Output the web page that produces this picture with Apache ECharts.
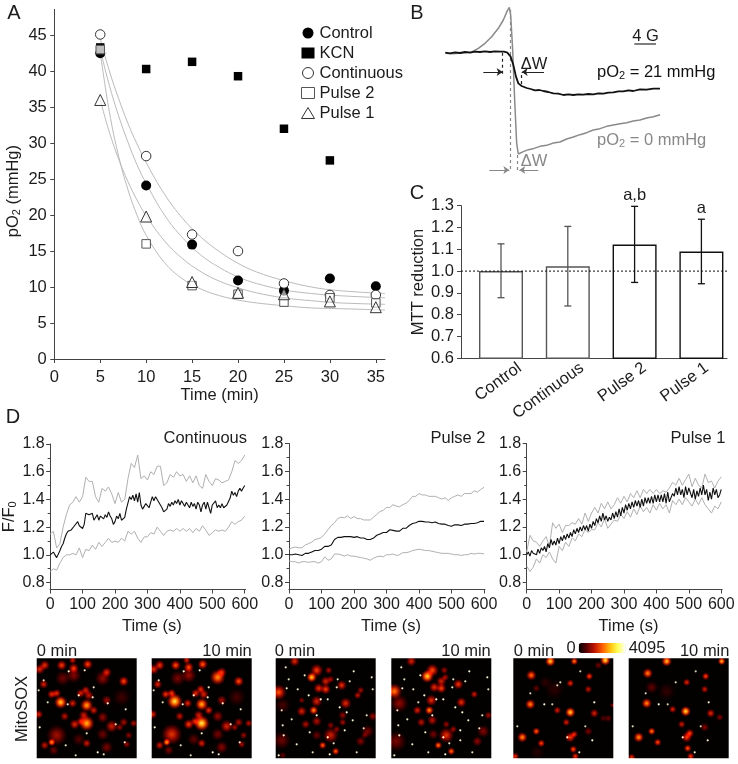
<!DOCTYPE html>
<html><head><meta charset="utf-8">
<style>html,body{margin:0;padding:0;background:#fff}#c{width:738px;height:764px}</style>
<script src="https://cdn.jsdelivr.net/npm/echarts@6/dist/echarts.min.js"></script>
</head><body><div id="c"></div>
<script>
// ---- Panel A
const timesA=[5,10,15,20,25,30,35];
const control=[42.5,24.1,15.9,10.9,9.5,11.2,10.1];
const kcn=[43.3,40.3,41.3,39.3,32,27.6];
const continuous=[45.1,28.2,17.3,15,10.5,8.9,8.9];
const pulse2=[43,16,10.2,9,7.9,8.5,7.8];
const pulse1=[36,19.8,10.7,9.2,9,8,7.2];
const fitTimes=[5,6,7,8,9,10,12,14,16,18,20,22,25,28,31,36];
const fitContinuous=[44.5,40,36.2,32.8,29.9,27.3,22.9,19.5,16.9,14.9,13.3,12.1,10.9,10,9.5,9.1];
const fitControl=[43,38,33.8,30.2,27,24.4,20,16.8,14.4,12.7,11.4,10.5,9.6,9.1,8.8,8.5];
const fitPulse1=[36,31.5,27.8,24.7,22.1,19.9,16.4,13.9,12.1,10.8,9.9,9.2,8.5,8.1,7.8,7.6];
const fitPulse2=[42.6,34.3,28.2,23.6,20,17.2,13.4,11.1,9.7,8.8,8.2,7.8,7.4,7.1,7,6.8];
// ---- Panel B (field, signal, arbitrary units)
const epr21=[[76,158],[90,160],[105,157],[120,159],[135,156],[150,158],[165,155],[180,156],[195,154],[210,156],[225,154],[240,155],[252,155],[262,158],[272,170],[280,195],[288,230],[295,250],[305,258],[320,264],[332,267],[345,271],[358,270],[370,273],[385,276],[400,280],[415,281],[430,285],[445,283],[460,285],[475,283],[490,284],[505,282],[520,283],[535,280],[550,281],[565,278],[580,277],[595,274],[610,274],[625,271],[640,273],[660,268],[680,269],[700,266],[720,266]];
const epr0=[[76,160],[100,161],[130,158],[155,156],[175,145],[195,130],[215,110],[235,85],[250,60],[262,32],[268,22],[272,45],[278,150],[284,300],[290,430],[295,462],[310,455],[325,449],[340,446],[360,439],[380,436],[400,429],[420,426],[440,417],[460,411],[480,404],[500,398],[520,390],[540,386],[560,379],[580,375],[600,371],[620,368],[640,363],[660,360],[680,354],[700,350],[720,344]];
const bDashGrey=[[[270,30],[270,515]],[[293,465],[293,515]]];
const bDashBlack=[[[248,158],[248,222]],[[305,225],[305,258]]];
const bArrowBlack=[[[190,216],[248,216]],[[372,216],[305,216]]];
const bArrowGrey=[[[208,510],[268,510]],[[355,510],[298,510]]];
const bScale=[[643,132],[708,132]];
// ---- Panel C
const groupsC=['Control','Continuous','Pulse 2','Pulse 1'];
const mttMean=[1.0,1.022,1.122,1.09];
const mttLow=[0.878,0.84,0.948,0.942];
const mttHigh=[1.125,1.205,1.297,1.238];
const mttMark=['','','a,b','a'];
// ---- Panel D
const contMean=[1.00,1.01,1.02,1.00,.98,.98,1.03,1.06,1.08,1.12,1.15,1.17,1.17,1.18,1.19,1.21,1.22,1.24,1.21,1.20,1.19,
1.22,1.30,1.30,1.29,1.30,1.30,1.25,1.24,1.29,1.25,1.28,1.29,1.26,1.29,1.27,1.31,1.28,1.26,1.22,1.24,
1.28,1.26,1.30,1.25,1.25,1.27,1.33,1.34,1.42,1.40,1.43,1.39,1.44,1.38,1.45,1.36,1.33,1.35,1.37,1.36,
1.34,1.38,1.42,1.39,1.42,1.42,1.38,1.36,1.34,1.31,1.32,1.33,1.37,1.35,1.38,1.36,1.39,1.37,1.40,1.36,
1.39,1.37,1.35,1.38,1.36,1.34,1.38,1.35,1.37,1.33,1.38,1.36,1.31,1.36,1.38,1.33,1.38,1.34,1.30,1.36,
1.35,1.39,1.34,1.36,1.34,1.37,1.34,1.35,1.36,1.37,1.41,1.46,1.43,1.45,1.42,1.46,1.48,1.46,1.48,1.50];
const contHigh=[1.15,1.17,1.05,1.08,1.2,1.29,1.36,1.38,1.42,1.38,1.42,1.56,1.53,1.53,1.42,1.38,1.48,1.46,1.49,1.44,1.37,1.45,1.38,1.40,1.55,1.66,1.63,1.72,1.55,1.57,1.54,1.60,1.58,1.64,1.64,1.50,1.52,1.58,1.56,1.60,1.57,1.58,1.53,1.57,1.52,1.57,1.50,1.48,1.58,1.53,1.50,1.55,1.54,1.52,1.53,1.54,1.60,1.68,1.66,1.68,1.72];
const contLow=[.88,.90,.89,.94,.98,1.0,1.0,1.01,1.0,1.05,.98,1.04,1.03,1.07,1.04,1.09,1.06,1.09,1.12,1.09,1.10,1.09,1.12,1.10,1.17,1.15,1.17,1.12,1.09,1.13,1.13,1.16,1.15,1.20,1.17,1.14,1.17,1.18,1.17,1.19,1.17,1.19,1.17,1.19,1.16,1.19,1.17,1.21,1.18,1.14,1.16,1.18,1.17,1.18,1.17,1.20,1.24,1.22,1.24,1.25,1.28];
const p2Mean=[1.0,1.0,1.005,1.0,.995,1.01,1.01,1.02,1.03,1.03,1.04,1.06,1.06,1.07,1.11,1.125,1.125,1.13,1.13,1.13,1.125,1.13,1.12,1.12,1.11,1.11,1.12,1.14,1.15,1.16,1.16,1.18,1.175,1.17,1.17,1.19,1.19,1.21,1.225,1.23,1.24,1.24,1.235,1.235,1.23,1.235,1.225,1.22,1.22,1.21,1.205,1.215,1.215,1.21,1.22,1.22,1.225,1.225,1.23,1.24,1.24];
const p2High=[1.04,1.05,1.055,1.05,1.05,1.07,1.08,1.09,1.11,1.115,1.125,1.15,1.18,1.21,1.23,1.26,1.27,1.265,1.28,1.26,1.275,1.26,1.26,1.25,1.25,1.25,1.27,1.29,1.31,1.32,1.34,1.34,1.36,1.35,1.345,1.36,1.37,1.39,1.42,1.42,1.44,1.43,1.43,1.42,1.42,1.42,1.41,1.40,1.41,1.39,1.41,1.42,1.43,1.42,1.44,1.44,1.44,1.46,1.45,1.47,1.485];
const p2Low=[.955,.95,.95,.94,.95,.95,.945,.95,.95,.94,.95,.985,.96,.97,1.005,1.005,1.0,.99,1.0,.99,.99,.985,.98,.975,.97,.96,.975,.985,.99,.985,1.0,1.0,1.005,.995,1.0,1.015,1.015,1.02,1.03,1.035,1.04,1.035,1.03,1.03,1.025,1.02,1.015,1.01,1.01,1.01,1.005,1.0,1.0,.995,1.0,1.0,1.01,1.005,1.01,1.01,1.005];
const p1Mean=[1.00,1.02,.99,1.03,1.01,1.02,1.00,1.04,1.01,1.05,1.03,1.06,1.02,1.08,1.05,1.11,1.07,1.10,1.07,1.12,1.08,
1.13,1.10,1.14,1.11,1.15,1.12,1.16,1.13,1.18,1.15,1.19,1.16,1.20,1.17,1.21,1.18,1.21,1.17,1.22,1.19,
1.24,1.21,1.26,1.23,1.28,1.24,1.30,1.25,1.28,1.24,1.27,1.25,1.30,1.26,1.31,1.27,1.33,1.28,1.34,1.30,
1.36,1.32,1.37,1.33,1.38,1.34,1.39,1.35,1.39,1.34,1.40,1.35,1.41,1.37,1.41,1.37,1.42,1.37,1.43,1.38,
1.43,1.38,1.43,1.38,1.44,1.37,1.45,1.38,1.37,1.44,1.42,1.48,1.43,1.49,1.43,1.47,1.41,1.49,1.43,1.48,
1.49,1.41,1.47,1.40,1.46,1.42,1.48,1.43,1.50,1.43,1.47,1.39,1.45,1.40,1.48,1.43,1.47,1.41,1.43,1.47];
const p1High=[1.02,1.14,1.10,1.09,1.06,1.10,1.13,1.06,1.23,1.19,1.22,1.16,1.21,1.21,1.23,1.22,1.26,1.22,1.30,1.24,1.30,1.34,1.30,1.37,1.33,1.38,1.33,1.36,1.41,1.37,1.42,1.38,1.44,1.41,1.46,1.41,1.47,1.44,1.47,1.44,1.47,1.44,1.46,1.45,1.48,1.52,1.50,1.55,1.50,1.54,1.58,1.49,1.55,1.50,1.48,1.58,1.52,1.53,1.48,1.53,1.56];
const p1Low=[.92,.88,.91,.97,.94,1.0,.98,1.02,.97,.94,1.06,1.03,1.09,1.06,1.12,1.10,1.15,1.13,1.18,1.16,1.18,1.18,1.23,1.20,1.26,1.19,1.22,1.25,1.24,1.29,1.26,1.31,1.27,1.33,1.29,1.35,1.31,1.34,1.30,1.36,1.32,1.37,1.33,1.36,1.30,1.39,1.36,1.40,1.36,1.41,1.38,1.35,1.40,1.36,1.41,1.36,1.33,1.30,1.35,1.33,1.38];
// ---- MitoSOX frames: [x, y, radius, intensity]
const frame1=[[24,44,5,3600],[50,47,5,3200],[50,65,6,3400],[15,84,3,3000],[8,7,4,2000],[3,11,4,1900],[25,7,4,2200],[37,10,4,2200],[51,6,4,2300],[36,2,3,1700],[70,14,4,1900],[66,20,6,1100],[87,23,4,2300],[7,26,3.5,1800],[37,17,6,1000],[26,20,6,800],[49,32,3.5,1800],[44,35,3.5,1800],[52,37,4,1600],[15,36,3.5,2000],[20,35,3.5,2000],[36,45,3.5,1800],[2,56,3.5,1800],[28,58,3.5,1500],[47,57,4,1700],[57,52,3.5,1800],[66,59,4.5,1100],[38,66,4,1900],[44,63,3.5,1700],[70,42,4,1200],[75,68,5,1700],[83,69,3,1200],[87,64,3.5,1300],[97,65,3,1400],[20,77,8,1300],[8,87,3.5,1600],[66,76,5,800],[50,85,3.5,1700],[92,77,3,1100],[90,86,3,1200],[70,89,5,900],[17,92,4,800],[42,81,5,600],[85,39,7,450],[32,13,1,4095],[42,37,1,4095],[48,12,1,3800],[57,29,1,3800],[71,45,1,4095],[89,51,1,3800],[3,69,1,4095],[50,75,1,3800],[61,94,1,4095],[31,46,1,3800],[11,44,1,3600],[56,39,1,3800],[2,32,1,3500],[79,66,1,3600],[39,97,1,3500],[29,87,1,3600],[88,84,1,3600],[7,22,1,3500],[67,96,1,3800]];
const frame2=[[23,43,6,3900],[50,46,5,3300],[50,65,6,4000],[15,84,3,3200],[8,7,4,2100],[2,11,4,2000],[24,7,4,2400],[37,9,4,2400],[51,6,4,2500],[35,2,3,1800],[66,19,6,3000],[70,14,4,2000],[87,23,4,2400],[6,26,3.5,1900],[37,17,6,1200],[26,20,6,900],[49,31,3.5,2000],[44,35,3.5,2000],[52,36,4,1800],[14,36,3.5,2100],[20,35,3.5,2200],[36,45,3.5,1900],[1,56,3.5,1900],[28,58,3.5,1600],[47,57,4,1800],[57,52,3.5,2000],[66,58,4.5,1200],[37,66,4,2200],[43,63,3.5,1900],[70,42,4,1300],[75,68,5,1800],[83,69,3,1300],[87,64,3.5,1400],[97,65,3,1500],[20,76,8,2000],[8,87,3.5,1700],[66,76,5,900],[50,85,3.5,1800],[92,77,3,1200],[90,86,3,1300],[70,89,5,1000],[17,92,4,900],[42,81,5,700],[85,39,7,500],[32,13,1,4095],[42,37,1,4095],[48,12,1,3900],[57,29,1,3800],[71,45,1,4095],[89,51,1,3800],[3,69,1,4095],[50,75,1,3900],[61,94,1,4095],[31,46,1,3900],[11,44,1,3600],[56,39,1,3800],[2,32,1,3500],[79,66,1,3600],[39,97,1,3600],[29,87,1,3600],[88,84,1,3700],[7,22,1,3500],[67,96,1,3800]];
const frame3=[[36,19,4,3600],[41,12,5,2200],[19,3,4,1900],[53,12,3,1400],[50,23,4,1800],[55,21,3,1300],[66,27,4,2000],[43,30,4,2000],[50,31,4,2200],[85,32,3,1300],[82,37,3,1600],[3,34,6,2400],[41,43,4.5,1800],[26,42,2.5,1100],[70,45,4.5,1900],[7,47,6,500],[38,52,3.5,3000],[26,53,4,1800],[67,57,3.5,1100],[97,58,3.5,1200],[30,66,3.5,1400],[41,63,4,1400],[55,67,3,1100],[67,64,3,1300],[61,71,3,1100],[55,77,6,1700],[41,77,4,800],[6,82,7,800],[85,83,4,1000],[92,73,5,900],[89,77,3,800],[47,87,3,2600],[60,93,3,2600],[7,97,3,700],[33,37,1,4095],[11,30,1,3800],[45,41,1,4095],[61,29,1,3800],[41,57,1,4095],[71,54,1,4095],[69,72,1,4095],[52,79,1,4000],[8,77,1,4000],[7,67,1,3800],[54,96,1,4095],[3,97,1,4000],[21,86,1,3800],[78,13,1,3800],[96,19,1,3800],[29,17,1,3800],[10,9,1,3800],[13,21,1,3600],[22,31,1,3600],[64,49,1,4095],[77,62,1,3800],[37,94,1,3600],[81,94,1,3600],[52,41,1,3900],[16,61,1,3600],[34,74,1,3800],[97,31,1,3600],[91,57,1,3600],[62,21,1,3600],[6,52,1,3500],[74,23,1,3500],[88,70,1,3500],[58,85,1,3600]];
const frame4=[[36,18,5,3700],[41,12,5,2400],[20,3,4,1800],[53,12,3,1300],[50,23,4,1800],[54,19,3,1400],[67,26,4,2100],[43,29,4,2000],[50,30,4,2300],[83,36,3,1700],[3,33,6,2800],[40,42,4.5,1900],[8,45,7,1100],[70,44,4,2000],[38,52,3.5,3000],[26,52,3.5,1800],[97,57,3,1300],[30,64,3.5,1500],[41,62,4,1500],[55,66,3,1200],[62,71,3,1300],[55,77,6,2000],[42,76,4,900],[5,83,8,900],[86,83,4,1100],[92,73,5,1000],[47,87,3,2800],[60,93,3,2700],[33,37,1,4095],[11,30,1,3900],[45,41,1,4095],[61,29,1,3800],[41,57,1,4095],[71,54,1,4095],[69,72,1,4095],[52,79,1,4000],[8,77,1,4000],[7,67,1,3900],[54,96,1,4095],[3,97,1,4000],[21,86,1,3800],[78,13,1,3900],[96,19,1,3800],[29,17,1,3800],[10,9,1,3800],[13,21,1,3600],[22,31,1,3700],[64,49,1,4095],[77,62,1,3800],[37,94,1,3700],[81,94,1,3600],[52,41,1,4000],[16,61,1,3700],[34,74,1,3900],[97,31,1,3600],[91,57,1,3700],[62,21,1,3600],[6,52,1,3600],[74,23,1,3600],[88,70,1,3600],[58,85,1,3700],[69,82,1,3800],[27,44,1,3600]];
const frame5=[[37,3,4,3700],[61,3,3,2800],[92,2,4,3900],[85,7,3,900],[18,17,4,2700],[76,18,3,2300],[57,25,3,2000],[75,31,3,1600],[23,30,3,800],[41,31,8,300],[32,24,5,300],[17,46,4,2900],[44,52,3,1800],[57,54,4,3700],[81,55,3.5,1800],[90,60,3,600],[95,60,3,800],[53,64,3,1800],[75,73,3.5,900],[23,73,3,2600],[9,79,4,3000],[61,76,3,2000],[57,79,4,2200],[28,85,3,2300],[60,91,3,2400],[62,98,3,2100],[2,98,3,2000],[99,47,2,1000],[24,94,6,250],[31,46,1,4095],[81,44,1,4000],[79,82,1,4095],[66,94,1,3900],[54,79,1,4000],[4,68,1,3500],[47,24,1,3500],[17,35,1,3400],[39,46,1,3400],[72,68,1,3300],[67,13,1,3300],[44,27,1,3400]];
const frame6=[[38,3,4,3500],[93,3,3,3500],[19,15,4,2900],[77,18,3,2300],[58,24,3,1900],[76,31,3,1700],[23,29,5,700],[18,45,4,3000],[44,51,3,1800],[57,53,4,3800],[82,55,3.5,1900],[91,59,3,1000],[53,66,3,1700],[76,69,3.5,1000],[23,73,3,2800],[10,79,4,3000],[61,75,3.5,2300],[58,79,4,2200],[29,84,3,2400],[59,90,3,2500],[62,98,3,2200],[3,99,3,2000],[38,33,7,350],[30,46,1,4095],[80,44,1,3900],[79,82,1,4000],[66,94,1,3800],[54,79,1,3900],[4,68,1,3500],[47,24,1,3500],[17,35,1,3400],[39,46,1,3400],[72,68,1,3300],[67,13,1,3300]];
const colourRange=['#000000','#5a0000','#be1400','#ff5a00','#ffbe0a','#ffff5a','#ffffff'];

const FONT='"Liberation Sans",Arial,sans-serif', INK='#1c1c1c', AX='#444';
const axisLine={show:true,onZero:false,lineStyle:{color:AX,width:1}};
const tick=(vals,len)=>({show:true,length:len||4,customValues:vals,lineStyle:{color:AX,width:1}});
const lab=(vals,size,margin)=>({show:true,customValues:vals,color:INK,fontFamily:FONT,fontSize:size||16,margin:margin||5});
const nameStyle=(extra)=>Object.assign({color:INK,fontFamily:FONT,fontSize:16.5,rich:{n:{fontFamily:FONT,fontSize:16.5,color:INK},s:{fontFamily:FONT,fontSize:11,color:INK,padding:[7,0,0,0]}}},extra||{});

const grids=[], xAxes=[], yAxes=[], series=[], minorAxes=[];
function addGrid(g,x,y){grids.push(Object.assign({containLabel:false},g));const i=grids.length-1;
  xAxes.push(Object.assign({gridIndex:i,splitLine:{show:false}},x));yAxes.push(Object.assign({gridIndex:i,splitLine:{show:false}},y));return i;}
const hidden=o=>Object.assign({show:false},o);

// A
const gA=addGrid({left:54.3,top:9.3,width:330.7,height:349.7},
 {type:'value',min:0,max:36,axisLine,axisTick:tick([0,5,10,15,20,25,30,35]),axisLabel:lab([0,5,10,15,20,25,30,35],16.5,10),name:'Time (min)',nameLocation:'middle',nameGap:26,nameTextStyle:nameStyle()},
 {type:'value',min:0,max:48.6,axisLine,axisTick:tick([0,5,10,15,20,25,30,35,40,45]),axisLabel:lab([0,5,10,15,20,25,30,35,40,45],16.5,7.5),name:'{n|pO}{s|2}{n| (mmHg)}',nameLocation:'middle',nameGap:32,nameTextStyle:nameStyle({padding:[0,14,0,0]})});
const pair=(xs,ys)=>ys.map((v,i)=>[xs[i],v]);
[['Fit Continuous',fitContinuous],['Fit Control',fitControl],['Fit Pulse 1',fitPulse1],['Fit Pulse 2',fitPulse2]].forEach(f=>series.push({type:'line',name:f[0],xAxisIndex:gA,yAxisIndex:gA,data:pair(fitTimes,f[1]),smooth:0.4,showSymbol:false,lineStyle:{color:'#bbbbbb',width:1},z:1,silent:true}));
const sc=(name,vals,symbol,size,item,z)=>series.push({type:'scatter',name,xAxisIndex:gA,yAxisIndex:gA,data:pair(timesA,vals),symbol,symbolSize:size,itemStyle:Object.assign({opacity:1},item),z:z});
sc('Control',control,'circle',10,{color:'#000'},3);
sc('KCN',kcn,'rect',8.5,{color:'#000'},3);
sc('Continuous',continuous,'circle',9.5,{color:'#fff',borderColor:'#333',borderWidth:1},4);
sc('Pulse 2',pulse2,'rect',8.5,{color:'rgba(255,255,255,0.75)',borderColor:'#555',borderWidth:1},5);
sc('Pulse 1',pulse1,'triangle',11,{color:'rgba(255,255,255,0.6)',borderColor:'#333',borderWidth:1},6);

// B
const gB=addGrid({left:420,top:0,width:318,height:190},hidden({type:'value',min:0,max:954}),hidden({type:'value',min:0,max:570,inverse:true}));
const segs=(data,color,width,type,symbol)=>series.push({type:'lines',coordinateSystem:'cartesian2d',xAxisIndex:gB,yAxisIndex:gB,polyline:false,silent:true,z:2,
  data:data.map(c=>({coords:c})),symbol:symbol?['none','arrow']:'none',symbolSize:symbol?6:0,lineStyle:{color,width,type,opacity:1}});
series.push({type:'line',name:'pO2 = 0 mmHg',xAxisIndex:gB,yAxisIndex:gB,data:epr0,showSymbol:false,lineStyle:{color:'#8a8a8a',width:1.5},z:3});
series.push({type:'line',name:'pO2 = 21 mmHg',xAxisIndex:gB,yAxisIndex:gB,data:epr21,showSymbol:false,lineStyle:{color:'#111',width:1.8},z:4});
segs(bDashGrey,'#888',1.2,[3,3]);
segs(bDashBlack,'#222',1.2,[3,3]);
segs(bArrowBlack,'#222',1,'solid',true);
segs(bArrowGrey,'#888',1,'solid',true);
segs([bScale],'#555',1.6,'solid');

// C: bars on a category grid, the visible axes on a second grid, labels on a third
const band=66.8, cBarLeft=467.6, cLabelShift=21;
const gC=addGrid({left:cBarLeft,top:205.7,width:band*4,height:152.6},
 {type:'category',data:groupsC,axisLine:{show:false},axisTick:{show:false},axisLabel:{show:false}},
 hidden({type:'value',min:0.6,max:1.3}));
series.push({type:'bar',name:'MTT reduction',xAxisIndex:gC,yAxisIndex:gC,barWidth:44,z:2,
 data:mttMean.map((v,i)=>({value:v,itemStyle:{color:'#fff',borderWidth:1.4,borderColor:i<2?'#555':'#111'}}))});
series.push({type:'custom',name:'MTT error',xAxisIndex:gC,yAxisIndex:gC,z:3,silent:true,
 data:groupsC.map((g,i)=>[i,mttLow[i],mttHigh[i]]),
 renderItem(p,api){const i=api.value(0),lo=api.coord([i,api.value(1)]),hi=api.coord([i,api.value(2)]);
  const st={stroke:i<2?'#555':'#111',lineWidth:1.3,fill:'none'},w=3.5;
  const kids=[{type:'line',shape:{x1:lo[0],y1:lo[1],x2:hi[0],y2:hi[1]},style:st},{type:'line',shape:{x1:lo[0]-w,y1:lo[1],x2:lo[0]+w,y2:lo[1]},style:st},{type:'line',shape:{x1:hi[0]-w,y1:hi[1],x2:hi[0]+w,y2:hi[1]},style:st}];
  if(mttMark[i])kids.push({type:'text',style:{text:mttMark[i],x:hi[0],y:hi[1]-2,align:'center',verticalAlign:'bottom',fontFamily:FONT,fontSize:16.5,fill:INK}});
  return {type:'group',children:kids};}});
addGrid({left:cBarLeft+cLabelShift,top:205.7,width:band*4,height:152.6},
 {type:'category',data:groupsC,axisLine:{show:false},axisTick:{show:false},axisLabel:{show:true,rotate:36,interval:0,color:INK,fontFamily:FONT,fontSize:16.5,margin:8}},
 hidden({type:'value',min:0.6,max:1.3}));
const gC2=addGrid({left:461,top:205.7,width:266,height:152.6},
 {type:'value',min:0,max:1,axisLine,axisTick:{show:false},axisLabel:{show:false}},
 {type:'value',min:0.6,max:1.3,interval:0.1,axisLine,axisTick:{show:true,length:4,lineStyle:{color:AX}},axisLabel:{show:true,color:INK,fontFamily:FONT,fontSize:16.5,margin:7,formatter:v=>v.toFixed(1)},name:'MTT reduction',nameLocation:'middle',nameGap:27,nameTextStyle:nameStyle()});
series.push({type:'line',name:'Reference',xAxisIndex:gC2,yAxisIndex:gC2,data:[[0,1],[1,1]],showSymbol:false,lineStyle:{color:'#111',width:1,type:[2,2]},z:5,silent:true});

// D
const xD=[0,100,200,300,400,500,600], yD=[0.8,1.0,1.2,1.4,1.6,1.8], yMinor=[0.9,1.1,1.3,1.5,1.7];
const bySteps=(vals,step)=>vals.map((v,i)=>[i*step,v]);
function panelD(left,width,right,top,name,high,low,mean,stepGrey,stepMean){
 const g=addGrid({left,top,width,height:589.5-top},
 {type:'value',min:0,max:right,axisLine,axisTick:tick(xD),axisLabel:lab(xD,16,7),name:'Time (s)',nameLocation:'middle',nameGap:28,nameTextStyle:nameStyle({padding:[0,0,0,8]})},
 {type:'value',min:0.75,max:1.8,axisLine,axisTick:tick(yD),axisLabel:Object.assign(lab(yD,16,5.5),{formatter:v=>v.toFixed(1)}),name:name,nameLocation:'middle',nameGap:27,nameTextStyle:nameStyle()});
 minorAxes.push({gridIndex:g,type:'value',min:0.75,max:1.8,position:'left',axisLine:{show:false},axisTick:tick(yMinor,2.5),axisLabel:{show:false},splitLine:{show:false}});
 const line=(n,d,c,w,z)=>series.push({type:'line',name:n,xAxisIndex:g,yAxisIndex:g,data:d,showSymbol:false,lineStyle:{color:c,width:w},z});
 line('upper',bySteps(high,stepGrey),'#b0b0b0',1,2);
 line('lower',bySteps(low,stepGrey),'#b0b0b0',1,2);
 line('mean',bySteps(mean,stepMean),'#111',1.1,3);
}
panelD(49.7,196,603,444,'{n|F/F}{s|0}',contHigh,contLow,contMean,10,5);
panelD(289,196,603,443.5,'',p2High,p2Low,p2Mean,10,10);
panelD(526.7,195.5,603,443.5,'',p1High,p1Low,p1Mean,10,5);

// MitoSOX frames
function ramp(t){const c=[[0,0,0,0],[.15,90,0,0],[.35,190,20,0],[.55,255,90,0],[.75,255,190,10],[.9,255,255,90],[1,255,255,255]];
 t=Math.max(0,Math.min(1,t));for(let i=1;i<c.length;i++)if(t<=c[i][0]){const a=c[i-1],b=c[i],k=(t-a[0])/(b[0]-a[0]);return [1,2,3].map(j=>Math.round(a[j]+(b[j]-a[j])*k));}return [255,255,255];}
const rgba=(c,a)=>'rgba('+c[0]+','+c[1]+','+c[2]+','+a+')';
const frames=[[36.7,frame1],[151.7,frame2],[275.7,frame3],[391.3,frame4],[513.3,frame5],[628.7,frame6]];
let firstFrameGrid=null;
frames.forEach((f,n)=>{
 const g=addGrid({left:f[0],top:658.3,width:100,height:100,show:true,backgroundColor:'#030000',borderWidth:0},hidden({type:'value',min:0,max:100}),hidden({type:'value',min:0,max:100,inverse:true}));
 if(firstFrameGrid===null)firstFrameGrid=g;
 series.push({type:'scatter',name:'MitoSOX '+(n+1),xAxisIndex:g,yAxisIndex:g,data:f[1],clip:true,blendMode:'lighter',silent:true,z:2,
  symbolSize:d=>d[2]<=1?2.2:d[2]*2.8,
  itemStyle:{opacity:1,color:p=>{const d=p.data,t=d[3]/4095;
    if(d[2]<=1)return 'rgba(255,250,215,'+Math.min(1,t).toFixed(2)+')';
    return new echarts.graphic.RadialGradient(.5,.5,.5,[{offset:0,color:rgba(ramp(t*.92),1)},{offset:.35,color:rgba(ramp(t*.62),1)},{offset:.7,color:rgba(ramp(t*.3),.7)},{offset:1,color:rgba(ramp(t*.1),0)}]);}}});
});
const barSeries=series.length;
series.push({type:'scatter',name:'Scale',xAxisIndex:firstFrameGrid,yAxisIndex:firstFrameGrid,data:[]});

// text
const TXT=(text,x,y,o)=>Object.assign({type:'text',x,y,silent:true,z:50,style:Object.assign({text,x:0,y:0,fill:INK,fontFamily:FONT,fontSize:16.5,align:'center',verticalAlign:'middle'},o||{})});
const rich=(c)=>({n:{fontFamily:FONT,fontSize:16.5,fill:c,color:c},s:{fontFamily:FONT,fontSize:11,fill:c,color:c,padding:[7,0,0,0]}});
const graphic=[
 TXT('A',14,13,{fontSize:20}),TXT('B',417,13,{fontSize:20}),TXT('C',417,193,{fontSize:20}),TXT('D',13,417,{fontSize:20}),
 TXT('4 G',645.5,36),TXT('\u0394W',534,64),TXT('\u0394W',534,161,{fill:'#888'}),
 TXT('{n|pO}{s|2}{n| = 21 mmHg}',597,72,{align:'left',rich:rich('#111')}),
 TXT('{n|pO}{s|2}{n| = 0 mmHg}',597,140,{align:'left',rich:rich('#888')}),
 TXT('Continuous',247,438,{align:'right'}),TXT('Pulse 2',458,438),TXT('Pulse 1',698,438),
 TXT('0 min',57,651),TXT('10 min',227,651),TXT('0 min',295,651),TXT('10 min',466,651),TXT('0 min',534,651),TXT('10 min',704.7,651),
 Object.assign(TXT('MitoSOX',22.7,709,{fontSize:16.5}),{rotation:Math.PI/2})
];

const chart=echarts.init(document.getElementById('c'),null,{renderer:'canvas'});
chart.setOption({animation:false,backgroundColor:'#fff',textStyle:{fontFamily:FONT},
 grid:grids,xAxis:xAxes,yAxis:yAxes.concat(minorAxes),series,graphic,
 legend:{show:true,orient:'vertical',left:296,top:19.5,itemGap:3,itemWidth:13,itemHeight:11,itemStyle:{borderWidth:1},data:['Control','KCN','Continuous','Pulse 2','Pulse 1'],textStyle:{color:INK,fontFamily:FONT,fontSize:16.5}},
 visualMap:{type:'continuous',show:true,seriesIndex:barSeries,min:0,max:4095,orient:'horizontal',left:566.5,top:639.5,padding:0,itemWidth:10,itemHeight:47,text:['4095','0'],textGap:3,calculable:false,realtime:false,hoverLink:false,inRange:{color:colourRange},textStyle:{color:INK,fontFamily:FONT,fontSize:16.5}}
});
</script></body></html>
